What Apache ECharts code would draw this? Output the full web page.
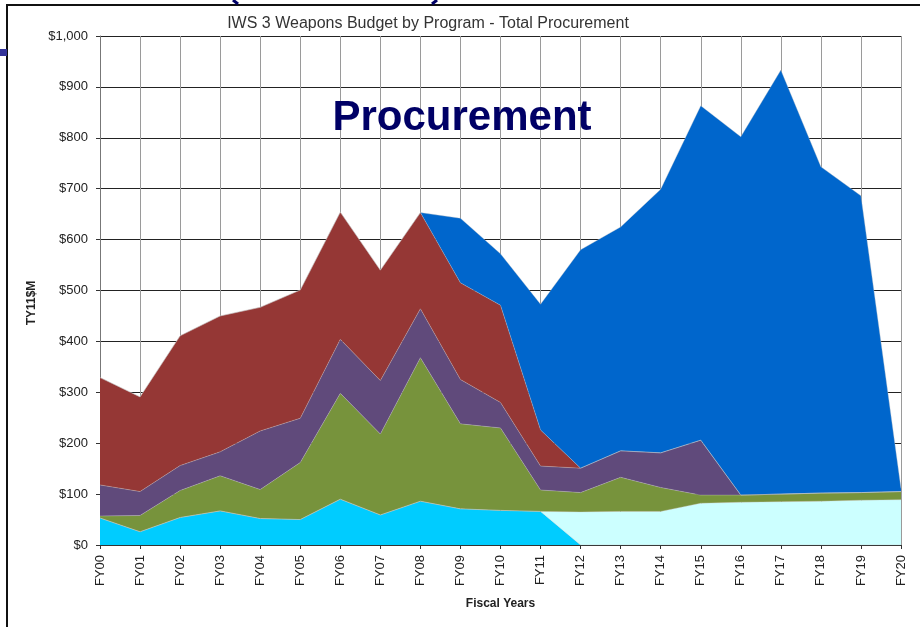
<!DOCTYPE html>
<html>
<head>
<meta charset="utf-8">
<script src="https://cdn.jsdelivr.net/npm/echarts@6/dist/echarts.min.js"></script>
<style>
html,body{margin:0;padding:0;background:#fff;}
#chart{width:920px;height:627px;}
</style>
</head>
<body>
<div id="chart"></div>
<script>
var categories = ['FY00','FY01','FY02','FY03','FY04','FY05','FY06','FY07','FY08','FY09','FY10','FY11','FY12','FY13','FY14','FY15','FY16','FY17','FY18','FY19','FY20'];
var yTicks = [0,100,200,300,400,500,600,700,800,900,1000];
var cyanVals      = [53, 26, 54, 67, 52, 50, 90, 59, 86, 71, 68, 66, 0, 0, 0, 0, 0, 0, 0, 0, 0];
var lightCyanVals = [0, 0, 0, 0, 0, 0, 0, 0, 0, 0, 0, 0, 65, 66, 66, 82, 84, 85, 86, 88, 89];
var greenVals     = [4, 32, 53, 69, 57, 112, 208, 159, 282, 167, 162, 42, 38, 67, 47, 16, 14, 15, 16, 15, 16];
var purpleVals    = [61, 47, 49, 47, 115, 87, 106, 105, 96, 87, 50, 47, 48, 52, 68, 108, 0, 0, 0, 0, 0];
var brownVals     = [211, 186, 255, 267, 243, 252, 250, 217, 189, 190, 191, 71, 0, 0, 0, 0, 0, 0, 0, 0, 0];
var blueVals      = [0, 0, 0, 0, 0, 0, 0, 0, 0, 127, 101, 247, 429, 440, 518, 657, 704, 833, 641, 583, 6];

var seriesDefs = [
  {name:'A', data:cyanVals, color:'#00CCFF'},
  {name:'B', data:lightCyanVals, color:'#CCFFFF'},
  {name:'C', data:greenVals, color:'#77933C'},
  {name:'D', data:purpleVals, color:'#604A7B'},
  {name:'E', data:brownVals, color:'#953735'},
  {name:'F', data:blueVals, color:'#0066CC'}
];

var chart = echarts.init(document.getElementById('chart'), null, {renderer:'canvas'});
var font = '"Liberation Sans", Arial, sans-serif';
var option = {
  animation:false,
  backgroundColor:'#fff',
  title:[{
    text:'IWS 3 Weapons Budget by Program - Total Procurement',
    left:423, top:11, textAlign:'center',
    textStyle:{fontFamily:font, fontSize:16, fontWeight:'normal', color:'#333'}
  },{
    text:'Procurement',
    left:457, top:92, textAlign:'center',
    textStyle:{fontFamily:font, fontSize:42, fontWeight:'bold', color:'#000066'}
  }],
  grid:{left:100, right:19, top:36, bottom:82, containLabel:false},
  xAxis:{
    type:'category', data:categories, boundaryGap:false,
    name:'Fiscal Years', nameLocation:'middle', nameGap:53,
    nameTextStyle:{fontFamily:font, fontSize:12, fontWeight:'bold', color:'#222'},
    axisLine:{lineStyle:{color:'#333', width:1}},
    axisTick:{show:true, length:4, lineStyle:{color:'#333'}},
    axisLabel:{rotate:90, fontFamily:font, fontSize:13, color:'#222', margin:10},
    splitLine:{show:true, lineStyle:{color:'#9a9a9a', width:1}}
  },
  yAxis:{
    type:'value', min:0, max:1000, interval:100,
    axisLine:{show:true, lineStyle:{color:'#777', width:1}},
    axisTick:{show:true, length:4, lineStyle:{color:'#333'}},
    axisLabel:{fontFamily:font, fontSize:13, color:'#222', margin:12,
      formatter:function(v){return '$' + v.toLocaleString('en-US');}},
    splitLine:{show:true, lineStyle:{color:'#222', width:1}}
  },
  graphic:[
    {type:'line', shape:{x1:6, y1:5, x2:920, y2:5}, style:{stroke:'#111', lineWidth:2}},
    {type:'line', shape:{x1:7, y1:5, x2:7, y2:627}, style:{stroke:'#111', lineWidth:2}},
    {type:'rect', shape:{x:0, y:49, width:7, height:7}, style:{fill:'#333399'}},
    {type:'line', shape:{x1:233, y1:0, x2:238, y2:4}, style:{stroke:'#000066', lineWidth:3}},
    {type:'line', shape:{x1:437, y1:0, x2:432, y2:4}, style:{stroke:'#000066', lineWidth:3}},
    {type:'text', x:32, y:303, rotation:Math.PI/2,
      style:{text:'TY11$M', fontFamily:font, fontSize:12, fontWeight:'bold', fill:'#222',
        textAlign:'center', textVerticalAlign:'middle'}}
  ],
  series: seriesDefs.map(function(s){
    return {
      name:s.name, type:'line', stack:'total', data:s.data,
      symbol:'none', showSymbol:false,
      lineStyle:{width:0.6, color:'rgba(200,200,200,0.6)'},
      areaStyle:{color:s.color, opacity:1},
      itemStyle:{color:s.color},
      z:2
    };
  })
};
chart.setOption(option);
</script>
</body>
</html>
